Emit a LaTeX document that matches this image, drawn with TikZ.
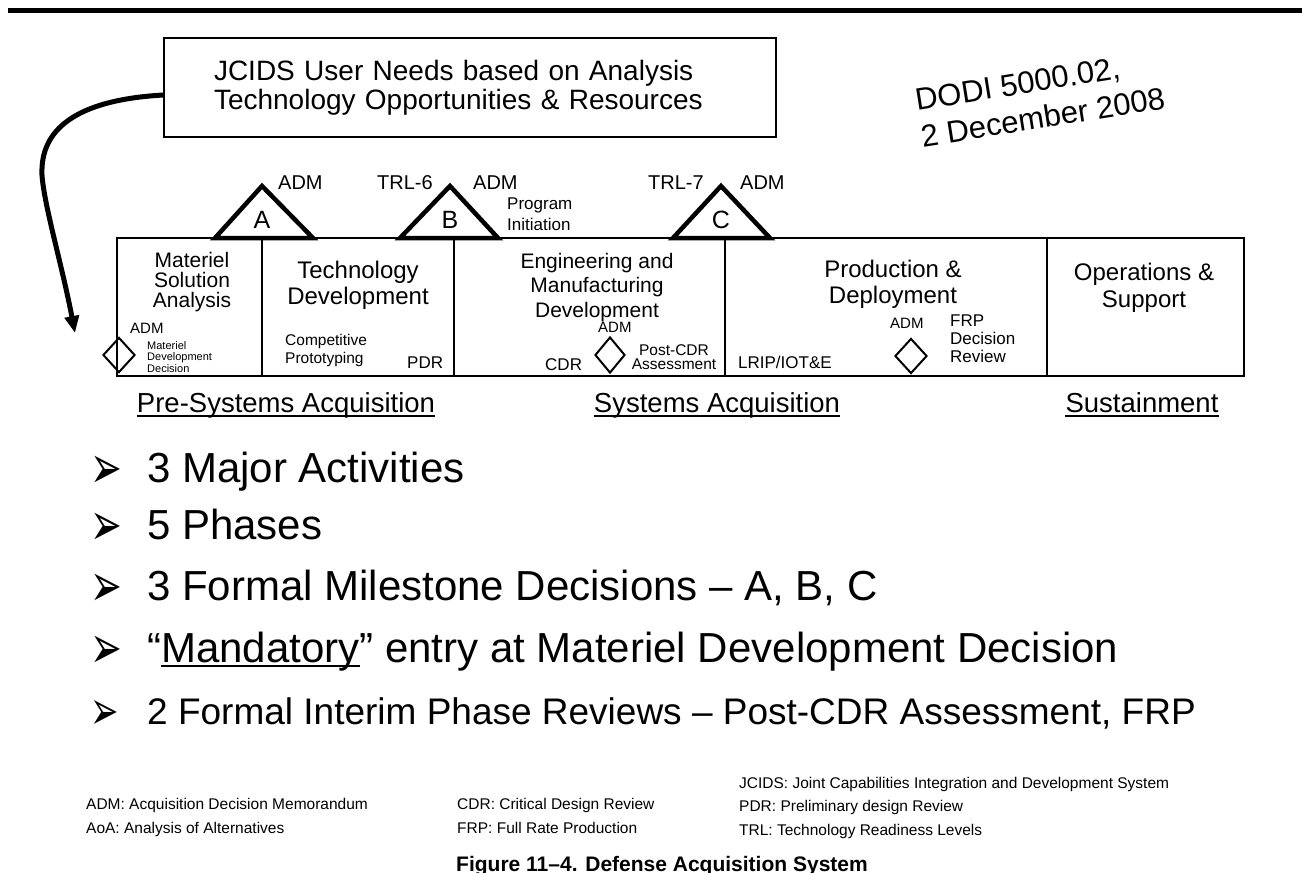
\documentclass[tikz,border=0pt]{standalone}
\usepackage{fontspec}
\usepackage{graphicx}
\setmainfont{Liberation Sans}
\newfontfamily\dingfont{DejaVu Sans}
\usetikzlibrary{arrows.meta,positioning,shapes.geometric}

\newcommand{\arrowbullet}[2]{\makebox[57pt][l]{\raisebox{-#2pt}{\scalebox{1}[1.6]{\dingfont\fontsize{#1}{#1}\selectfont ➢}}}}
\newcommand{\undl}[1]{\setbox0\hbox{#1}\rlap{\rule[-0.13em]{\wd0}{0.07em}}#1}

\tikzset{
  topbar/.style={line width=4.5pt},
  needsbox/.style={draw=black,line width=1.5pt,minimum width=612pt,minimum height=99pt,inner xsep=50pt,inner ysep=0pt,text width=512pt,align=left,font=\fontsize{28}{29}\selectfont},
  phasebox/.style={draw=black,line width=2pt,minimum height=138pt,inner sep=0pt,outer sep=0pt},
  phasetitle/.style={anchor=north,inner sep=0pt,align=center,font=\fontsize{24}{26}\selectfont},
  milestone/.style={draw=black,line width=4.5pt,line join=miter},
  mslabel/.style={anchor=base,inner sep=0pt,font=\fontsize{25}{25}\selectfont},
  toplabel/.style={anchor=base west,inner sep=0pt,font=\fontsize{20}{20}\selectfont},
  boxlabel/.style={anchor=base west,inner sep=0pt,font=\fontsize{17}{17}\selectfont},
  admlabel/.style={anchor=base west,inner sep=0pt,font=\fontsize{15}{15}\selectfont},
  boxnote/.style={inner sep=0pt,align=left,font=\fontsize{17}{18}\selectfont},
  review/.style={diamond,draw=black,line width=2pt,minimum width=32pt,minimum height=35pt,inner sep=0pt},
  entryflow/.style={-{Triangle[length=17pt,width=14pt]},line width=5pt},
  grouplabel/.style={anchor=base,inner sep=0pt,font=\fontsize{27.5}{28}\selectfont},
  uline/.style={line width=2pt},
  bulletline/.style={anchor=base west,inner sep=0pt,font=\fontsize{42}{42}\selectfont},
  legendtext/.style={anchor=base west,inner sep=0pt,font=\fontsize{15.5}{16}\selectfont}
}

\begin{document}
\begin{tikzpicture}[x=1pt,y=1pt]
  \useasboundingbox[fill=white] (0,0) rectangle (1302,-873);
  \draw[topbar] (8,-10.5) -- (1302,-10.5);
  \node[needsbox] (needs) at (470,-87.5) {JCIDS User Needs based on Analysis\\Technology Opportunities \& Resources};
  \node[rotate=9,align=left,inner sep=0pt,font=\fontsize{31}{37}\selectfont] (dodi) at (1040,-99) {DODI 5000.02,\\2 December 2008};
  % phases
  \node[phasebox,minimum width=145pt] (msa) at (189.5,-307) {};
  \node[phasebox,minimum width=192pt,right=0pt of msa] (td) {};
  \node[phasebox,minimum width=271pt,right=0pt of td] (emd) {};
  \node[phasebox,minimum width=322pt,right=0pt of emd] (pd) {};
  \node[phasebox,minimum width=197pt,right=0pt of pd] (os) {};
  \node[phasetitle,font=\fontsize{21}{20}\selectfont,below=14pt of msa.north,xshift=2.5pt] (msatitle) {Materiel\\Solution\\Analysis};
  \node[phasetitle,below=23pt of td.north] (tdtitle) {Technology\\Development};
  \node[phasetitle,font=\fontsize{21}{24.5}\selectfont,below=15pt of emd.north,xshift=7.5pt] (emdtitle) {Engineering and\\Manufacturing\\Development};
  \node[phasetitle,below=22pt of pd.north,xshift=7pt] (pdtitle) {Production \&\\Deployment};
  \node[phasetitle,font=\fontsize{24}{27}\selectfont,below=25pt of os.north,xshift=-1.5pt] (ostitle) {Operations \&\\Support};
  % milestones
  \draw[milestone] (215,-238) -- (262,-186) -- (313,-238) -- cycle;
  \draw[milestone] (400,-238) -- (450,-186) -- (498,-238) -- cycle;
  \draw[milestone] (673,-238) -- (721,-186) -- (770,-238) -- cycle;
  \node[mslabel] (msA) at (262,-228) {A};
  \node[mslabel] (msB) at (450,-228) {B};
  \node[mslabel] (msC) at (721,-228) {C};
  \node[toplabel] (admA) at (278,-189) {ADM};
  \node[toplabel] (trlsix) at (377,-189) {TRL-6};
  \node[toplabel] (admB) at (473,-189) {ADM};
  \node[toplabel] (trlseven) at (648,-189) {TRL-7};
  \node[toplabel] (admC) at (740,-189) {ADM};
  \node[boxnote,anchor=north west,font=\fontsize{17}{21}\selectfont] (proginit) at (507,-198) {Program\\Initiation};
  % reviews
  \node[review] (mdd) at (119,-355) {};
  \node[review,minimum width=30pt,minimum height=36pt] (pcdr) at (610,-355) {};
  \node[review] (frp) at (911,-356) {};
  \node[admlabel] (admmdd) at (130,-333) {ADM};
  \node[boxnote,anchor=north west,font=\fontsize{11}{11.5}\selectfont] (mddtext) at (147,-341) {Materiel\\Development\\Decision};
  \node[boxnote,anchor=north west,font=\fontsize{15.5}{18}\selectfont] (proto) at (285,-334) {Competitive\\Prototyping};
  \node[boxlabel] (pdr) at (407,-368) {PDR};
  \node[boxlabel] (cdr) at (545,-370) {CDR};
  \node[admlabel] (admpcdr) at (598,-332) {ADM};
  \node[boxnote,anchor=north,align=center,font=\fontsize{15.5}{14}\selectfont] (postcdr) at (674,-344) {Post-CDR\\Assessment};
  \node[boxlabel] (lrip) at (738,-368) {LRIP/IOT\&E};
  \node[admlabel] (admfrp) at (890,-328) {ADM};
  \node[boxnote,anchor=north west] (frptext) at (950,-315) {FRP\\Decision\\Review};
  % entry arrow
  \coordinate (mddentry) at (75,-333);
  \draw[entryflow] ([yshift=-7.5pt]needs.west) .. controls (75,-100) and (40,-130) .. (42,-175) .. controls (44,-205) and (62,-265) .. (mddentry);
  % groups
  \node[grouplabel] (presys) at (286,-412) {Pre-Systems Acquisition};
  \node[grouplabel] (sysacq) at (717,-412) {Systems Acquisition};
  \node[grouplabel] (sustain) at (1142,-412) {Sustainment};
  \draw[uline] ([yshift=-4pt]presys.base west) -- ([yshift=-4pt]presys.base east);
  \draw[uline] ([yshift=-4pt]sysacq.base west) -- ([yshift=-4pt]sysacq.base east);
  \draw[uline] ([yshift=-4pt]sustain.base west) -- ([yshift=-4pt]sustain.base east);
  % bullets
  \node[bulletline] (bone) at (90,-482) {\arrowbullet{38}{6.3}3 Major Activities};
  \node[bulletline] (btwo) at (90,-539) {\arrowbullet{38}{6.3}5 Phases};
  \node[bulletline] (bthree) at (90,-600) {\arrowbullet{38}{6.3}3 Formal Milestone Decisions – A, B, C};
  \node[bulletline] (bfour) at (90,-662) {\arrowbullet{38}{6.3}“\undl{Mandatory}” entry at Materiel Development Decision};
  \node[bulletline,font=\fontsize{37}{37}\selectfont] (bfive) at (90,-724) {\arrowbullet{34}{5.6}2 Formal Interim Phase Reviews – Post-CDR Assessment, FRP};
  % legend
  \node[legendtext] (lgadm) at (86,-809) {ADM: Acquisition Decision Memorandum};
  \node[legendtext] (lgaoa) at (86,-833) {AoA: Analysis of Alternatives};
  \node[legendtext] (lgcdr) at (457,-809) {CDR: Critical Design Review};
  \node[legendtext] (lgfrp) at (457,-833) {FRP: Full Rate Production};
  \node[legendtext] (lgjcids) at (739,-788) {JCIDS: Joint Capabilities Integration and Development System};
  \node[legendtext] (lgpdr) at (739,-811) {PDR: Preliminary design Review};
  \node[legendtext] (lgtrl) at (739,-835) {TRL: Technology Readiness Levels};
  \node[anchor=base,inner sep=0pt,font=\bfseries\fontsize{21}{21}\selectfont] (caption) at (662,-871) {Figure 11–4. Defense Acquisition System};
\end{tikzpicture}
\end{document}
